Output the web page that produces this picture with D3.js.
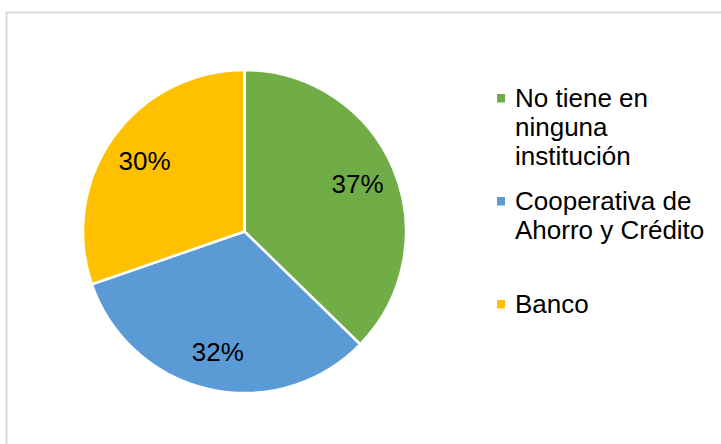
<!DOCTYPE html>
<html lang="es">
<head>
    <meta charset="UTF-8">
    <title>Pie</title>
    <script src="https://d3js.org/d3.v7.min.js"></script>
</head>
<body>
<style>
    body {
        margin: 0;
        background: #fff;
    }
    svg text {
        font-family: "Liberation Sans", Arial, sans-serif;
        fill: #000;
    }
</style>
<script>
    // data
    var categories = ["No tiene en ninguna institución", "Cooperativa de Ahorro y Crédito", "Banco"];
    var values = [37.3, 32.4, 30.3];
    var labels = ["37%", "32%", "30%"];
    var legendLines = [["No tiene en", "ninguna", "institución"], ["Cooperativa de", "Ahorro y Crédito"], ["Banco"]];
    var colors = ["#70ad47", "#5b9bd5", "#ffc000"];

    var width = 721, height = 444;
    var cx = 244.5, cy = 231.5, radius = 161.5;

    var svg = d3.select("body")
        .append("svg")
        .attr("width", width)
        .attr("height", height);

    // chart frame
    svg.append("rect")
        .attr("x", 6.5)
        .attr("y", 12.5)
        .attr("width", width + 10)
        .attr("height", height + 10)
        .style("fill", "none")
        .style("stroke", "#d9d9d9")
        .style("stroke-width", 2);

    var pie = d3.pie().sort(null).value(function (d) { return d; });
    var arcs = pie(values);

    var arc = d3.arc().innerRadius(0).outerRadius(radius);
    var labelArc = d3.arc().innerRadius(radius * 0.76).outerRadius(radius * 0.76);

    var g = svg.append("g")
        .attr("transform", "translate(" + cx + "," + cy + ")");

    g.selectAll(".slice")
        .data(arcs)
        .enter().append("path")
        .attr("class", "slice")
        .attr("d", arc)
        .style("fill", function (d, i) { return colors[i]; })
        .style("stroke", "#fff")
        .style("stroke-width", 2.5)
        .style("stroke-linejoin", "round");

    g.selectAll(".lbl")
        .data(arcs)
        .enter().append("text")
        .attr("class", "lbl")
        .attr("transform", function (d) {
            var c = labelArc.centroid(d);
            return "translate(" + c[0] + "," + c[1] + ")";
        })
        .attr("text-anchor", "middle")
        .attr("dy", "0.36em")
        .style("font-size", "26px")
        .text(function (d, i) { return labels[i]; });

    // legend
    var legendX = 497, lineH = 29;
    var legendBase = [107, 210, 313];

    var legend = svg.append("g");
    categories.forEach(function (c, i) {
        var item = legend.append("g");
        item.append("rect")
            .attr("x", legendX)
            .attr("y", legendBase[i] - 13)
            .attr("width", 8)
            .attr("height", 8.5)
            .style("fill", colors[i]);
        var t = item.append("text")
            .attr("x", legendX + 18)
            .attr("y", legendBase[i])
            .style("font-size", "26px");
        legendLines[i].forEach(function (ln, j) {
            t.append("tspan")
                .attr("x", legendX + 18)
                .attr("y", legendBase[i] + j * lineH)
                .text(ln);
        });
    });
</script>
</body>
</html>
